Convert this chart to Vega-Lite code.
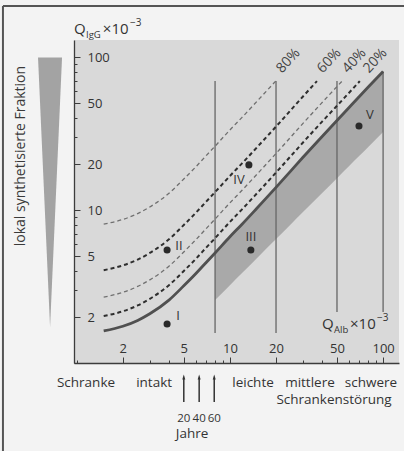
{
"$schema":"https://vega.github.io/schema/vega-lite/v6.json",
"width":325,"height":323,"autosize":"none",
"padding":{"left":74,"top":40,"right":5,"bottom":88},
"background":"#f3f3f3",
"config":{"font":"Open Sans","view":{"fill":"#d9d9d9","stroke":null},
 "axis":{"grid":false,"title":null,"domainColor":"#3c3c3c","domainWidth":1.3,"tickColor":"#3c3c3c","tickWidth":1,"labelColor":"#333333","labelFontSize":13,"labelFont":"Open Sans","labelOverlap":false,"labelFlush":false,"labelBound":false}},
"encoding":{
 "x":{"field":"x","type":"quantitative","scale":{"type":"log","domain":[0.96,127],"nice":false,"zero":false},
  "axis":{"orient":"bottom","values":[1,2,3,4,5,6,7,8,9,10,20,30,40,50,60,70,80,90,100],
   "labelExpr":"indexof([2,5,10,20,50,100], datum.value) >= 0 ? format(datum.value, 'd') : ''",
   "tickSize":{"condition":{"test":"indexof([2,5,10,20,50,100], datum.value) >= 0","value":-6},"value":-3},
   "labelPadding":-5,"labelBaseline":"alphabetic"}},
 "y":{"field":"y","type":"quantitative","scale":{"type":"log","domain":[1,130],"nice":false,"zero":false},
  "axis":{"orient":"left","values":[1,2,3,4,5,6,7,8,9,10,20,30,40,50,60,70,80,90,100],
   "labelExpr":"indexof([2,5,10,20,50,100], datum.value) >= 0 ? format(datum.value, 'd') : ''",
   "tickSize":{"condition":{"test":"indexof([2,5,10,20,50,100], datum.value) >= 0","value":-6},"value":-3},
   "labelPadding":-7,"labelAlign":"left","labelBaseline":"middle"}}
},
"layer":[
 {"data":{"values":[
  {"x":8,"y":2.58,"y2":5.25},{"x":10,"y":3.23,"y2":6.7},{"x":12,"y":3.88,"y2":8.1},{"x":15,"y":4.85,"y2":10.3},
  {"x":20,"y":6.47,"y2":14.1},{"x":25,"y":8.09,"y2":18.1},{"x":30,"y":9.72,"y2":22.2},{"x":40,"y":12.96,"y2":30.4},
  {"x":50,"y":16.2,"y2":38.6},{"x":60,"y":19.46,"y2":47.0},{"x":70,"y":22.7,"y2":55.5},{"x":80,"y":25.96,"y2":64.0},{"x":100,"y":32.5,"y2":80.8}]},
  "mark":{"type":"area","color":"#a9a9a9","interpolate":"monotone"},"encoding":{"y2":{"field":"y2"}}},
 {"data":{"values":[{"x":8,"y":1.57,"y2":70},{"x":20,"y":1.57,"y2":70},{"x":50,"y":2.16,"y2":70},{"x":100,"y":2.16,"y2":80.8}]},
  "mark":{"type":"rule","color":"#666666","strokeWidth":1.3},"encoding":{"y2":{"field":"y2"}}},
 {"data":{"values":[
  {"s":"80","x":1.5,"y":8.1},{"s":"80","x":2,"y":8.7},{"s":"80","x":2.5,"y":9.5},{"s":"80","x":3,"y":10.5},{"s":"80","x":4,"y":12.9},{"s":"80","x":5,"y":16.0},{"s":"80","x":6,"y":19.25},{"s":"80","x":7,"y":22.75},{"s":"80","x":8,"y":26.25},{"s":"80","x":10,"y":33.5},{"s":"80","x":12,"y":40.5},{"s":"80","x":15,"y":51.5},{"s":"80","x":19.9,"y":70},
  {"s":"40","x":1.5,"y":2.7},{"s":"40","x":2,"y":2.9},{"s":"40","x":2.5,"y":3.17},{"s":"40","x":3,"y":3.5},{"s":"40","x":4,"y":4.3},{"s":"40","x":5,"y":5.33},{"s":"40","x":6,"y":6.42},{"s":"40","x":7,"y":7.58},{"s":"40","x":8,"y":8.75},{"s":"40","x":10,"y":11.17},{"s":"40","x":12,"y":13.5},{"s":"40","x":15,"y":17.17},{"s":"40","x":20,"y":23.5},{"s":"40","x":25,"y":30.17},{"s":"40","x":30,"y":37.0},{"s":"40","x":40,"y":50.67},{"s":"40","x":54,"y":70}]},
  "mark":{"type":"line","color":"#707070","strokeWidth":1.3,"strokeDash":[4,3],"interpolate":"monotone"},"encoding":{"detail":{"field":"s"}}},
 {"data":{"values":[
  {"s":"60","x":1.5,"y":4.05},{"s":"60","x":2,"y":4.35},{"s":"60","x":2.5,"y":4.75},{"s":"60","x":3,"y":5.25},{"s":"60","x":4,"y":6.45},{"s":"60","x":5,"y":8.0},{"s":"60","x":6,"y":9.63},{"s":"60","x":7,"y":11.38},{"s":"60","x":8,"y":13.13},{"s":"60","x":10,"y":16.75},{"s":"60","x":12,"y":20.25},{"s":"60","x":15,"y":25.75},{"s":"60","x":20,"y":35.25},{"s":"60","x":25,"y":45.25},{"s":"60","x":30,"y":55.5},{"s":"60","x":37,"y":70},
  {"s":"20","x":1.5,"y":2.03},{"s":"20","x":2,"y":2.18},{"s":"20","x":2.5,"y":2.38},{"s":"20","x":3,"y":2.63},{"s":"20","x":4,"y":3.23},{"s":"20","x":5,"y":4.0},{"s":"20","x":6,"y":4.81},{"s":"20","x":7,"y":5.69},{"s":"20","x":8,"y":6.56},{"s":"20","x":10,"y":8.38},{"s":"20","x":12,"y":10.13},{"s":"20","x":15,"y":12.88},{"s":"20","x":20,"y":17.63},{"s":"20","x":25,"y":22.63},{"s":"20","x":30,"y":27.75},{"s":"20","x":40,"y":38.0},{"s":"20","x":50,"y":48.25},{"s":"20","x":60,"y":58.75},{"s":"20","x":70.5,"y":70}]},
  "mark":{"type":"line","color":"#2e2e2e","strokeWidth":2,"strokeDash":[4,3],"interpolate":"monotone"},"encoding":{"detail":{"field":"s"}}},
 {"data":{"values":[
  {"x":1.5,"y":1.62},{"x":2,"y":1.74},{"x":2.5,"y":1.9},{"x":3,"y":2.1},{"x":4,"y":2.58},{"x":5,"y":3.2},{"x":6,"y":3.85},{"x":7,"y":4.55},{"x":8,"y":5.25},{"x":10,"y":6.7},{"x":12,"y":8.1},{"x":15,"y":10.3},{"x":20,"y":14.1},{"x":25,"y":18.1},{"x":30,"y":22.2},{"x":40,"y":30.4},{"x":50,"y":38.6},{"x":60,"y":47.0},{"x":70,"y":55.5},{"x":80,"y":64.0},{"x":100,"y":80.8}]},
  "mark":{"type":"line","color":"#505050","strokeWidth":2.8,"interpolate":"monotone"},"encoding":{}},
 {"data":{"values":[{"p":"I","x":3.89,"y":1.8},{"p":"II","x":3.89,"y":5.49},{"p":"III","x":13.7,"y":5.49},{"p":"IV","x":13.3,"y":19.8},{"p":"V","x":69.6,"y":35.6}]},
  "mark":{"type":"circle","color":"#2a2a2a","size":50,"opacity":1},"encoding":{}},
 {"data":{"values":[{"t":"I","x":4.58,"y":2.03},{"t":"II","x":4.65,"y":5.83},{"t":"III","x":13.7,"y":6.68},{"t":"IV","x":11.46,"y":15.8},{"t":"V","x":82.1,"y":42.0}]},
  "mark":{"type":"text","fontSize":13,"color":"#333333","align":"center","baseline":"middle"},"encoding":{"text":{"field":"t"}}},
 {"data":{"values":[{"t":"80%","x":20.9,"y":81.5},{"t":"60%","x":38.7,"y":81.5},{"t":"40%","x":56.4,"y":81.5},{"t":"20%","x":77.3,"y":81.5}]},
  "mark":{"type":"text","fontSize":14,"color":"#444444","align":"left","baseline":"middle","angle":313},"encoding":{"text":{"field":"t"}}},
 {"data":{"values":[{"y":100,"x":0.559,"x2":0.802},{"y":1.72,"x":0.67,"x2":0.67}]},
  "mark":{"type":"area","orient":"horizontal","color":"#a3a3a3"},"encoding":{"x2":{"field":"x2"}}},
 {"data":{"values":[{"t":"lokal synthetisierte Fraktion","x":0.433,"y":22.6}]},
  "mark":{"type":"text","fontSize":14,"color":"#3a3a3a","angle":270,"align":"center","baseline":"middle"},"encoding":{"text":{"field":"t"}}},
 {"data":{"values":[{"t":"Q","x":0.96,"y":142.3},{"t":"×10","x":1.48,"y":142.3},{"t":"Q","x":39.9,"y":1.669},{"t":"×10","x":60.8,"y":1.669}]},
  "mark":{"type":"text","fontSize":15,"color":"#333333","align":"left","baseline":"alphabetic"},"encoding":{"text":{"field":"t"}}},
 {"data":{"values":[{"t":"IgG","x":1.15,"y":134},{"t":"Alb","x":47.8,"y":1.571}]},
  "mark":{"type":"text","fontSize":9.5,"color":"#333333","align":"left","baseline":"alphabetic"},"encoding":{"text":{"field":"t"}}},
 {"data":{"values":[{"t":"−3","x":2.23,"y":160.6},{"t":"−3","x":91.2,"y":1.884}]},
  "mark":{"type":"text","fontSize":10,"color":"#333333","align":"left","baseline":"alphabetic"},"encoding":{"text":{"field":"t"}}},
 {"data":{"values":[{"t":"Schranke","x":1.15,"y":0.697},{"t":"intakt","x":3.2,"y":0.697},{"t":"leichte","x":14.15,"y":0.697},{"t":"mittlere","x":33.3,"y":0.697},{"t":"schwere","x":83.4,"y":0.697},{"t":"Schrankenstörung","x":47.8,"y":0.539},{"t":"Jahre","x":5.66,"y":0.323}]},
  "mark":{"type":"text","fontSize":13.5,"color":"#333333","align":"center","baseline":"alphabetic"},"encoding":{"text":{"field":"t"}}},
 {"data":{"values":[{"t":"20","x":5,"y":0.411},{"t":"40","x":6.3,"y":0.411},{"t":"60","x":7.9,"y":0.411}]},
  "mark":{"type":"text","fontSize":11.5,"color":"#333333","align":"center","baseline":"alphabetic"},"encoding":{"text":{"field":"t"}}},
 {"data":{"values":[{"x":5,"y":0.556,"y2":0.79},{"x":6.3,"y":0.556,"y2":0.79},{"x":7.9,"y":0.556,"y2":0.79}]},
  "mark":{"type":"rule","color":"#333333","strokeWidth":1.5},"encoding":{"y2":{"field":"y2"}}},
 {"data":{"values":[{"x":5,"y":0.8},{"x":6.3,"y":0.8},{"x":7.9,"y":0.8}]},
  "mark":{"type":"point","shape":"M0,-1.2L0.55,0.6L-0.55,0.6Z","filled":true,"color":"#333333","size":30,"opacity":1},"encoding":{}},
 {"data":{"values":[{"x":0.33,"x2":140,"y":217}]},
  "mark":{"type":"rule","color":"#555555","strokeWidth":2},"encoding":{"x2":{"field":"x2"}}},
 {"data":{"values":[{"x":0.33,"y":217,"y2":0.25}]},
  "mark":{"type":"rule","color":"#555555","strokeWidth":2},"encoding":{"y2":{"field":"y2"}}}
]
}
